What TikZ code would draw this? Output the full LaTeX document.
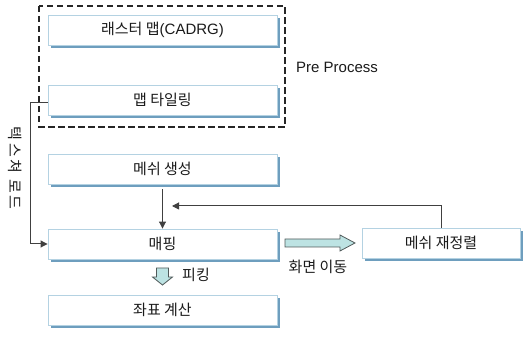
\documentclass[tikz,border=0pt]{standalone}
\usepackage{fontspec}
\setmainfont{Noto Sans CJK KR}
\newfontfamily\latinfont{Liberation Sans}
\usetikzlibrary{arrows.meta,calc}
\definecolor{boxline}{HTML}{B4D2E2}
\definecolor{boxshadow}{HTML}{6E9EBE}
\definecolor{fatfill}{HTML}{BDE3E3}
\definecolor{fatline}{HTML}{505A5A}
\definecolor{txt}{HTML}{1A1A1A}
\tikzset{
  procbox/.style={draw=boxline, line width=0.9pt, fill=white,
    minimum width=229pt, minimum height=30pt, inner sep=0pt,
    font=\fontsize{15}{17}\selectfont, text=txt,
    preaction={fill=boxshadow, transform canvas={xshift=3pt, yshift=-3pt}}},
  lbl/.style={font=\fontsize{15}{17}\selectfont, text=txt, inner sep=0pt},
  conn/.style={draw=black!75, line width=1pt},
  tip/.style={-{Triangle[length=7pt,width=7pt]}},
  fat/.style={draw=fatline, fill=fatfill, line width=0.8pt, line join=miter}
}
\begin{document}
\begin{tikzpicture}[x=1pt,y=1pt]
  \useasboundingbox (0,0) rectangle (525,339);
  % pre-processing group
  \draw[black!85, line width=1.2pt, dash pattern=on 6.5pt off 3.5pt] (39,333) rectangle (285,212);
  \node[lbl, anchor=west] (pre) at (296,272) {\latinfont Pre Process};
  % process boxes
  \node[procbox] (b1) at (162.5,309) {래스터 맵{\latinfont (CADRG)}};
  \node[procbox] (b2) at (162.5,239) {맵 타일링};
  \node[procbox] (b3) at (162.5,170) {메쉬 생성};
  \node[procbox] (b4) at (162.5,95) {매핑};
  \node[procbox] (b5) at (162.5,29) {좌표 계산};
  \node[procbox, minimum width=158pt] (b6) at (441,96) {메쉬 재정렬};
  % texture load path on the left
  \coordinate (tl) at (30,236);
  \draw[conn, tip] ($(b2.west)+(0,-3)$) -- (tl) |- (b4.west);
  \node[lbl, rotate=-90] (texload) at (15,171) {텍\hspace{2.5pt}스\hspace{2.5pt}쳐\hspace{6pt}로\hspace{2.5pt}드};
  % mesh generation into mapping
  \draw[conn, tip] ($(b3.south)+(0,-5)$) -- (b4.north);
  % mesh rearrangement feeds back
  \coordinate (fb) at (172,133);
  \draw[conn, tip] (b6.north) |- (fb);
  % screen move: fat arrow to the right
  \coordinate (sm) at (285,96);
  \draw[fat] (sm) ++(0,4) -- ++(55,0) -- ++(0,4) -- ++(15,-8) -- ++(-15,-8) -- ++(0,4) -- ++(-55,0) -- cycle;
  \node[lbl] (smlbl) at (318,72) {화면 이동};
  % picking: fat arrow downward
  \coordinate (pk) at (162.5,71);
  \draw[fat] (pk) ++(-6,0) -- ++(0,-9) -- ++(-4,0) -- ++(10,-8) -- ++(10,8) -- ++(-4,0) -- ++(0,9) -- cycle;
  \node[lbl] (pklbl) at (196,64) {피킹};
\end{tikzpicture}
\end{document}
